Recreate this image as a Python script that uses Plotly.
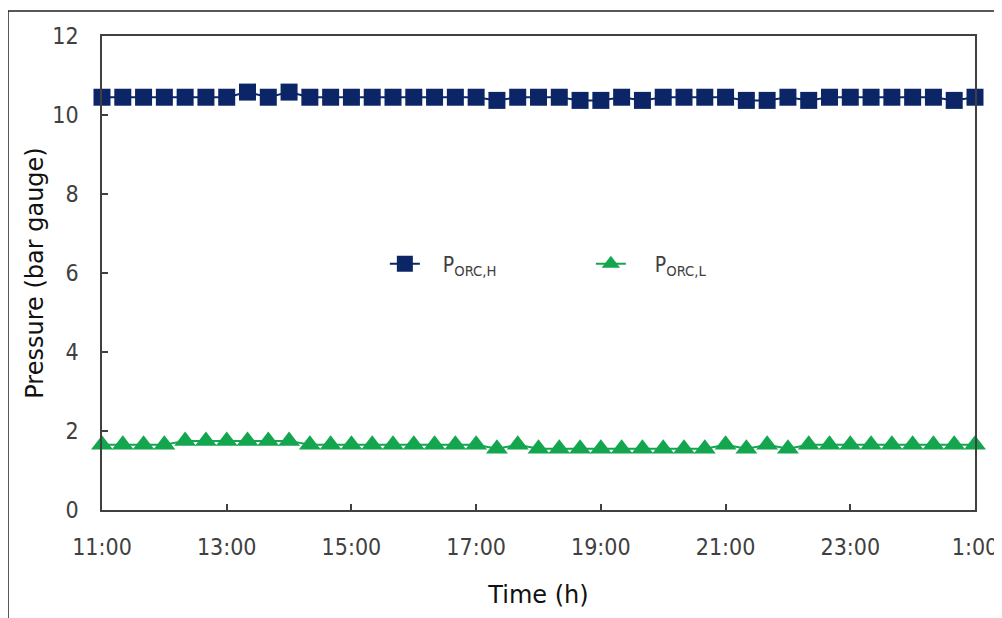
import plotly.graph_objects as go

# time in hours since midnight (every 20 min, 11:00 -> 1:00 next day)
time_h = [11 + i / 3 for i in range(43)]

p_orc_h = [10.45, 10.45, 10.45, 10.45, 10.45, 10.45, 10.45, 10.58, 10.45, 10.58,
           10.45, 10.45, 10.45, 10.45, 10.45, 10.45, 10.45, 10.45, 10.45, 10.37,
           10.45, 10.45, 10.45, 10.37, 10.37, 10.45, 10.37, 10.45, 10.45, 10.45,
           10.45, 10.37, 10.37, 10.45, 10.37, 10.45, 10.45, 10.45, 10.45, 10.45,
           10.45, 10.37, 10.45]

p_orc_l = [1.65, 1.65, 1.65, 1.65, 1.75, 1.75, 1.75, 1.75, 1.75, 1.75,
           1.65, 1.65, 1.65, 1.65, 1.65, 1.65, 1.65, 1.65, 1.65, 1.55,
           1.65, 1.55, 1.55, 1.55, 1.55, 1.55, 1.55, 1.55, 1.55, 1.55,
           1.65, 1.55, 1.65, 1.55, 1.65, 1.65, 1.65, 1.65, 1.65, 1.65,
           1.65, 1.65, 1.65]

x_tick_vals = [11, 13, 15, 17, 19, 21, 23, 25]
x_tick_text = ["11:00", "13:00", "15:00", "17:00", "19:00", "21:00", "23:00", "1:00"]
y_tick_vals = [0, 2, 4, 6, 8, 10, 12]

TICK_FONT = "DejaVu Sans Condensed"
TITLE_FONT = "DejaVu Sans"
AXIS_COLOR = "#404040"

fig = go.Figure()
fig.add_trace(go.Scatter(
    x=time_h, y=p_orc_h, mode="lines+markers",
    name="&nbsp;&nbsp;&nbsp;P<sub>ORC,H</sub>",
    line=dict(color="#0b2566", width=2),
    marker=dict(symbol="square", size=17, color="#0b2566"),
    cliponaxis=False,
))
fig.add_trace(go.Scatter(
    x=time_h, y=p_orc_l, mode="lines+markers",
    name="&nbsp;&nbsp;&nbsp;&nbsp;P<sub>ORC,L</sub>",
    line=dict(color="#13a64f", width=2),
    marker=dict(symbol="triangle-up", size=19, color="#13a64f"),
    cliponaxis=False,
))

fig.update_layout(
    width=1002, height=618,
    margin=dict(l=94, r=35, t=28, b=116, autoexpand=False),
    paper_bgcolor="white", plot_bgcolor="white",
    font=dict(family=TICK_FONT, color=AXIS_COLOR, size=18),
    showlegend=True,
    legend=dict(
        orientation="h", x=0.324, y=0.519, xanchor="left", yanchor="middle",
        bgcolor="rgba(0,0,0,0)", font=dict(size=21, color=AXIS_COLOR, family=TICK_FONT),
        entrywidth=161, entrywidthmode="pixels", itemwidth=30,
    ),
    shapes=[dict(
        type="rect", xref="paper", yref="paper",
        x0=(8 - 102) / 873, x1=1.2, y0=-0.3, y1=(510 - 11) / 474,
        line=dict(color="#222222", width=1.5), fillcolor="rgba(0,0,0,0)",
        layer="below",
    )],
)

fig.update_xaxes(
    range=[11, 25], tickmode="array", tickvals=x_tick_vals, ticktext=x_tick_text,
    ticks="inside", ticklen=6, tickcolor=AXIS_COLOR, tickwidth=1.5,
    showline=True, linecolor=AXIS_COLOR, linewidth=1.5, mirror=True,
    showgrid=False, zeroline=False, ticklabelstandoff=16, automargin=False,
    tickfont=dict(size=23, color=AXIS_COLOR, family=TICK_FONT),
    title=dict(text="Time (h)", font=dict(size=24, color="#111111", family=TITLE_FONT), standoff=27),
)
fig.update_yaxes(
    range=[0, 12], tickmode="array", tickvals=y_tick_vals,
    ticks="inside", ticklen=6, tickcolor=AXIS_COLOR, tickwidth=1.5,
    showline=True, linecolor=AXIS_COLOR, linewidth=1.5, mirror=True,
    showgrid=False, zeroline=False, ticklabelstandoff=17, automargin=False,
    tickfont=dict(size=23, color=AXIS_COLOR, family=TICK_FONT),
    title=dict(text="Pressure (bar gauge)", font=dict(size=24, color="#111111", family=TITLE_FONT), standoff=2),
)

fig.write_html("out.html")
